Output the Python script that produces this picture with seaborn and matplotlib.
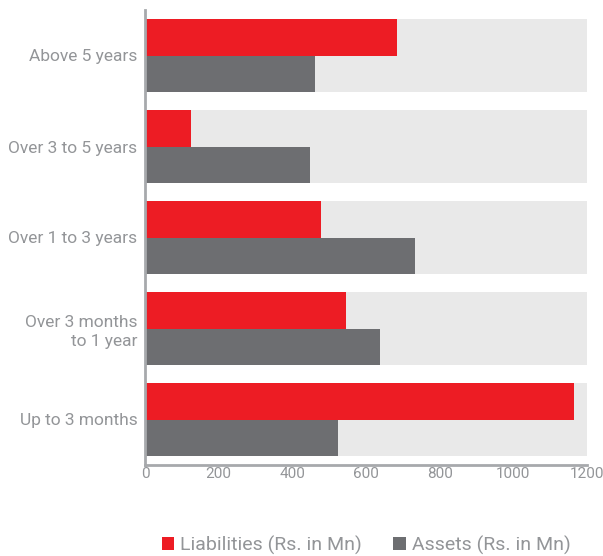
import matplotlib
matplotlib.use("Agg")
import matplotlib.pyplot as plt
from matplotlib.patches import Patch
import seaborn as sns
import pandas as pd

# Maturity buckets and amounts (Rs. in Mn)
categories = ["Above 5 years", "Over 3 to 5 years", "Over 1 to 3 years",
              "Over 3 months\nto 1 year", "Up to 3 months"]
liabilities = [683, 125, 479, 546, 1164]
assets = [462, 449, 734, 639, 524]
series_names = ["Liabilities (Rs. in Mn)", "Assets (Rs. in Mn)"]
x_ticks = [0, 200, 400, 600, 800, 1000, 1200]
scale_max = 1200

RED = "#ed1c24"
DARK = "#6d6e71"
TRACK = "#e9e9e9"
TEXT = "#939598"
AXIS = "#a7a9ac"

sns.set_theme(style="white")
plt.rcParams["font.family"] = ["Roboto", "DejaVu Sans"]

df = pd.DataFrame({
    "bucket": categories * 2,
    "value": liabilities + assets,
    "series": [series_names[0]] * len(categories) + [series_names[1]] * len(categories),
})
track = pd.DataFrame({"bucket": categories, "value": [scale_max] * len(categories)})

fig = plt.figure(figsize=(6.03, 5.56), dpi=100)
ax = fig.add_axes([145 / 603, 1 - 465 / 556, 442 / 603, 455 / 556])

# light full-scale track behind each pair of bars
sns.barplot(data=track, x="value", y="bucket", order=categories, color=TRACK,
            width=0.8, linewidth=0, saturation=1, ax=ax, errorbar=None)
sns.barplot(data=df, x="value", y="bucket", hue="series", order=categories,
            hue_order=series_names, palette=[RED, DARK], width=0.8, gap=0,
            linewidth=0, saturation=1, ax=ax, errorbar=None, legend=False)

ax.set_xlim(0, scale_max)
ax.set_ylim(len(categories) - 0.5, -0.5)
ax.set_xticks(x_ticks)
ax.set_xticklabels([str(t) for t in x_ticks])
ax.set_xlabel("")
ax.set_ylabel("")

for side in ["top", "right"]:
    ax.spines[side].set_visible(False)
for side in ["left", "bottom"]:
    ax.spines[side].set_color(AXIS)
    ax.spines[side].set_linewidth(2)

ax.tick_params(axis="x", direction="in", length=7, width=2, color=AXIS,
               labelcolor=TEXT, labelsize=11, pad=1.5)
ax.tick_params(axis="y", length=0, labelcolor=TEXT, labelsize=12.5, pad=5.5)
for lbl in ax.get_yticklabels():
    lbl.set_horizontalalignment("right")
    lbl.set_multialignment("right")
    lbl.set_linespacing(1.35)

handles = [Patch(facecolor=RED, edgecolor="none", label=series_names[0]),
           Patch(facecolor=DARK, edgecolor="none", label=series_names[1])]
fig.legend(handles=handles, loc="center", bbox_to_anchor=(366 / 603, 1 - 545 / 556),
           ncol=2, frameon=False, fontsize=14, labelcolor=TEXT,
           handlelength=0.65, handleheight=0.65, handletextpad=0.3,
           columnspacing=1.6, borderaxespad=0, borderpad=0)

fig.savefig("out.png", dpi=100)
